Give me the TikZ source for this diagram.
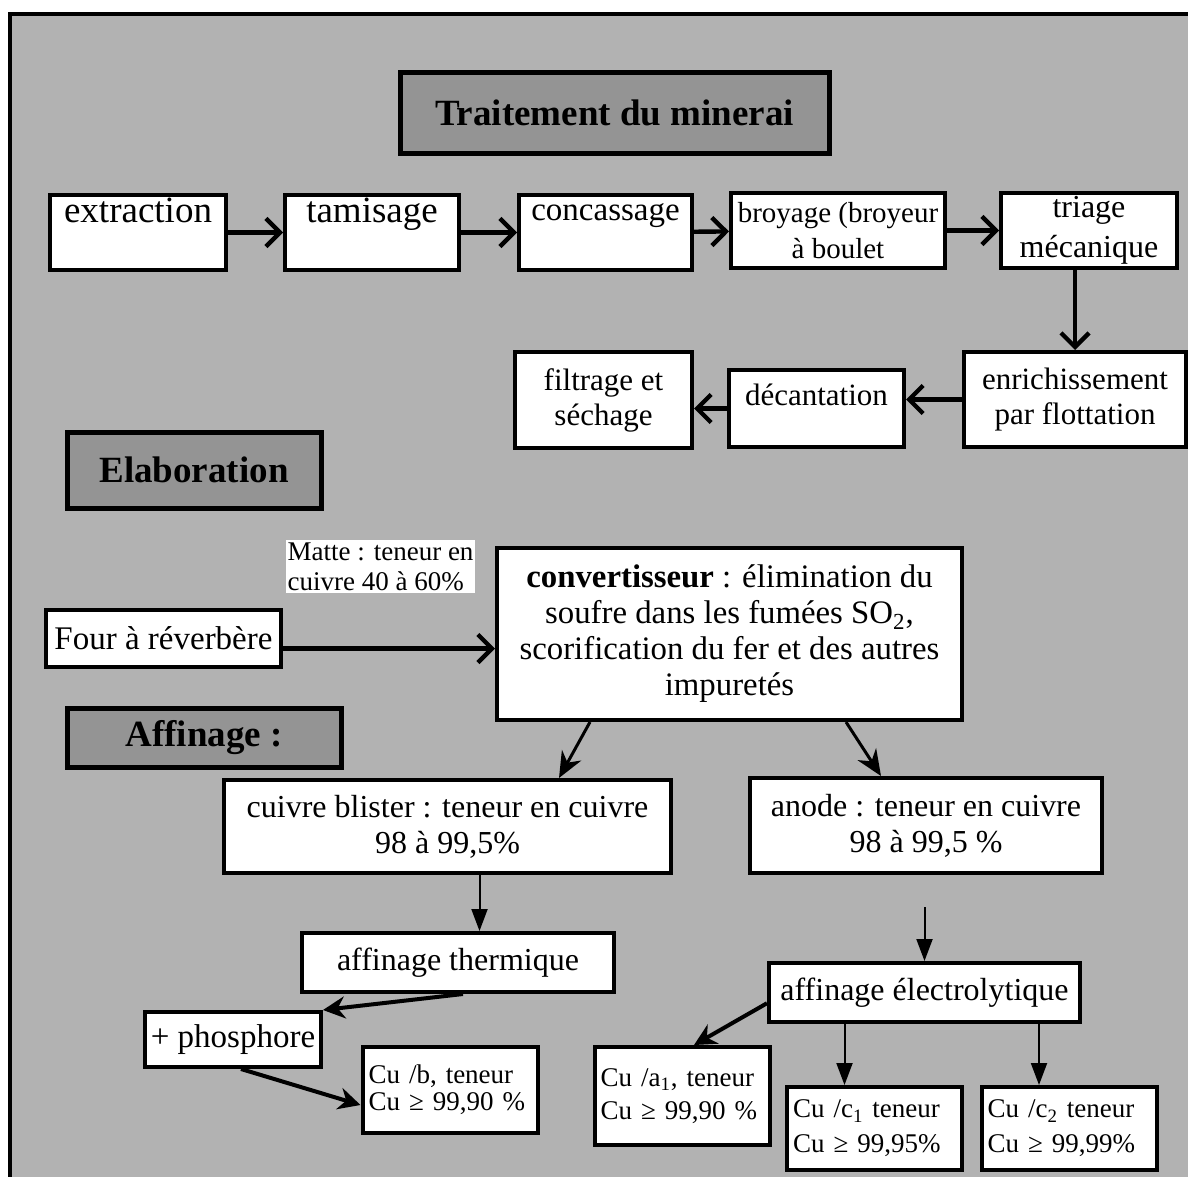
\documentclass[tikz,border=0pt]{standalone}
\usepackage{fontspec}
\setmainfont{Liberation Serif}
\usetikzlibrary{arrows.meta, positioning, calc}

\definecolor{screen}{gray}{0.7}
\definecolor{screendark}{gray}{0.58}

\begin{document}
\begin{tikzpicture}[
        x=0.5pt, y=-0.5pt,
        % Define styles for the different blocks
        box/.style={rectangle, draw, line width=2pt, fill=white, inner sep=0pt, align=center, font=\fontsize{16}{18}\selectfont},
        head/.style={rectangle, draw, line width=2.5pt, fill=screendark, inner sep=0pt, font=\fontsize{18.5}{22}\selectfont\bfseries},
        note/.style={rectangle, draw, line width=2pt, fill=white, inner xsep=3pt, inner ysep=0pt, text width=81.5pt, align=left},
        flow/.style={draw, line width=2.2pt, -{Straight Barb[length=7pt, width=14pt]}},
        fork/.style={draw, line width=1.5pt, -{Stealth[length=13pt, width=11pt]}},
        push/.style={draw, line width=2pt, -{Stealth[length=11pt, width=11pt]}},
        drop/.style={draw, line width=1pt, -{Triangle[length=11pt, width=8pt]}}
    ]

    % --- Background ---
    \useasboundingbox (0,0) rectangle (1188,1177);
    \fill[screen] (10,14) rectangle (1188,1177);
    \draw[line width=2pt] (8,14) -- (1188,14);
    \draw[line width=2pt] (10,13) -- (10,1177);

    % --- Nodes ---
    % Traitement du minerai
    \node[head, minimum width=214.5pt, minimum height=40pt] (trait) at (614.5,113) {Traitement du minerai};

    \node[box, minimum width=88pt, minimum height=37.5pt, text height=13.5pt, text depth=24pt, font=\fontsize{18.5}{22}\selectfont] (extr) at (138,232.5) {extraction};
    \node[box, minimum width=87pt, minimum height=37.5pt, text height=13.5pt, text depth=24pt, font=\fontsize{18.5}{22}\selectfont] (tamis) at (372,232.5) {tamisage};
    \node[box, minimum width=86.5pt, minimum height=37.5pt, text height=12.75pt, text depth=24.75pt, font=\fontsize{16.5}{20}\selectfont] (conc) at (605.5,232.5) {concassage};
    \node[box, minimum width=107pt, minimum height=37.5pt, font=\fontsize{14.5}{18}\selectfont] (broy) at (838,230.5) {broyage (broyeur\\à boulet};
    \node[box, minimum width=88pt, minimum height=37.5pt, font=\fontsize{16}{20}\selectfont] (triage) at (1089,230.5) {triage\\mécanique};

    \node[box, minimum width=111pt, minimum height=47.5pt, font=\fontsize{15.5}{17.5}\selectfont] (enrich) at (1075,399.5) {enrichissement\\par flottation};
    \node[box, minimum width=87.5pt, minimum height=38.5pt, text height=17.5pt, text depth=21pt, font=\fontsize{15.5}{17.5}\selectfont] (decant) at (816.5,408.5) {décantation};
    \node[box, minimum width=88.5pt, minimum height=48pt, font=\fontsize{15.5}{17.5}\selectfont] (filtr) at (603.5,400) {filtrage et\\séchage};

    % Elaboration
    \node[head, minimum width=127pt, minimum height=38pt] (elab) at (194,470) {Elaboration};
    \node[fill=white, inner sep=1pt, align=left, font=\fontsize{13.5}{15}\selectfont] (matte) at (380.5,566.5) {Matte : teneur en\\cuivre 40 à 60\%};
    \node[box, minimum width=117.5pt, minimum height=28.5pt, font=\fontsize{16.5}{20}\selectfont] (four) at (163.5,638.5) {Four à réverbère};
    \node[box, minimum width=232.5pt, minimum height=86pt, font=\fontsize{16.4}{18}\selectfont] (conv) at (729.5,634) {\textbf{convertisseur} : élimination du\\soufre dans les fumées SO\textsubscript{2},\\scorification du fer et des autres\\impuretés};

    % Affinage
    \node[head, minimum width=137pt, minimum height=29.5pt] (affin) at (204,737.5) {Affinage :};
    \node[box, minimum width=223.5pt, minimum height=46.5pt] (blister) at (447.5,826.5) {cuivre blister : teneur en cuivre\\98 à 99,5\%};
    \node[box, minimum width=176pt, minimum height=47.5pt] (anode) at (926,825.5) {anode : teneur en cuivre\\98 à 99,5 \%};
    \node[box, minimum width=156pt, minimum height=29.5pt] (therm) at (458,962.5) {affinage thermique};
    \node[box, minimum width=88pt, minimum height=27.5pt, font=\fontsize{16.5}{20}\selectfont] (phos) at (233,1039.5) {+ phosphore};
    \node[note, minimum height=43pt, font=\fontsize{13.5}{13.5}\selectfont] (cub) at (450,1090) {Cu /b, teneur\\Cu ≥ 99,90 \%};
    \node[box, minimum width=155.5pt, minimum height=29.5pt] (elec) at (924.5,992.5) {affinage électrolytique};
    \node[note, minimum height=49pt, font=\fontsize{13.5}{16.5}\selectfont] (cua) at (682,1096) {Cu /a\textsubscript{1}, teneur\\Cu ≥ 99,90 \%};
    \node[note, minimum height=41.5pt, font=\fontsize{13.5}{17.5}\selectfont] (cuc1) at (874.5,1128.5) {Cu /c\textsubscript{1} teneur\\Cu ≥ 99,95\%};
    \node[note, minimum height=41.5pt, font=\fontsize{13.5}{17.5}\selectfont] (cuc2) at (1069,1128.5) {Cu /c\textsubscript{2} teneur\\Cu ≥ 99,99\%};

    % --- Edges (Arrows) ---
    \path[flow] (extr) -- (tamis);
    \path[flow] (tamis) -- (conc);
    \path[flow] (conc) -- (broy);
    \path[flow] (broy) -- (triage);
    \path[flow] (triage.south -| enrich.north) -- (enrich.north);
    \path[flow] (enrich.west) -- (enrich.west -| decant.east);
    \path[flow] (decant.west) -- (decant.west -| filtr.east);

    \path[flow] ([yshift=-5pt]four.east) -- ([yshift=-5pt]four.east -| conv.west);
    \path[fork] ([xshift=-69.75pt]conv.south) -- ([xshift=55.75pt]blister.north);
    \path[fork] ([xshift=58.25pt]conv.south) -- ([xshift=-22.5pt]anode.north);

    \path[drop] ([xshift=16pt]blister.south) -- ([xshift=16pt]blister.south |- therm.north);
    \path[push] ([xshift=2.5pt]therm.south) -- (phos.north east);
    \path[push] ([xshift=4pt]phos.south) -- ([yshift=-7.5pt]cub.west);

    \path[drop] ([yshift=-16pt]anode.south -| elec.north) -- (elec.north);
    \path[push] ($(elec.south west)!0.33!(elec.north west)$) -- ([xshift=6pt]cua.north);
    \path[drop] ([xshift=-15pt]cuc1.north |- elec.south) -- ([xshift=-15pt]cuc1.north);
    \path[drop] ([xshift=-15pt]cuc2.north |- elec.south) -- ([xshift=-15pt]cuc2.north);

\end{tikzpicture}
\end{document}
